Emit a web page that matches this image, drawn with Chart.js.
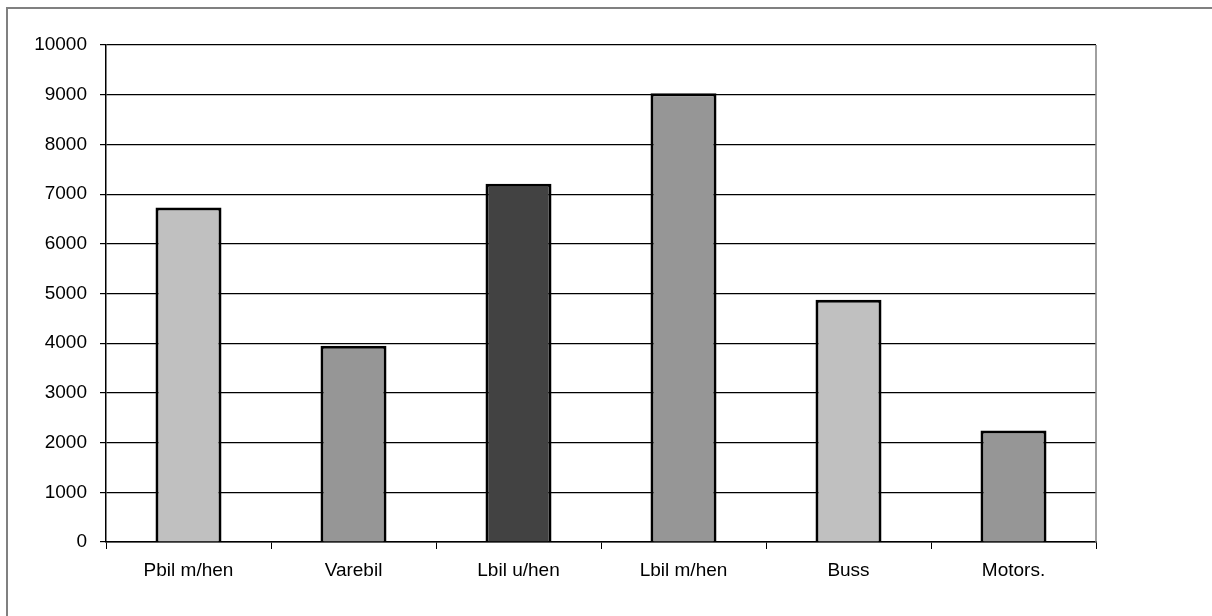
<!DOCTYPE html>
<html>
<head>
<meta charset="utf-8">
<script src="https://cdn.jsdelivr.net/npm/chart.js@4"></script>
<style>
  html, body { margin: 0; padding: 0; background: #ffffff; }
  #wrap { position: absolute; left: 0; top: 0; width: 1212px; height: 616px; }
</style>
</head>
<body>
<div id="wrap"><canvas id="c" width="1212" height="616"></canvas></div>
<script>
const categories = ["Pbil m/hen", "Varebil", "Lbil u/hen", "Lbil m/hen", "Buss", "Motors."];
const values = [6730, 3950, 7210, 9030, 4875, 2245];
const barColors = ["#c0c0c0", "#969696", "#424242", "#969696", "#c0c0c0", "#969696"];
const yTicks = [0, 1000, 2000, 3000, 4000, 5000, 6000, 7000, 8000, 9000, 10000];

const framePlugin = {
  id: 'frame',
  beforeDraw(chart) {
    const ctx = chart.ctx;
    ctx.save();
    ctx.fillStyle = '#ffffff';
    ctx.fillRect(0, 0, chart.width, chart.height);
    ctx.strokeStyle = '#808080';
    ctx.lineWidth = 2;
    ctx.beginPath();
    ctx.moveTo(7, 616);
    ctx.lineTo(7, 8);
    ctx.lineTo(1212, 8);
    ctx.stroke();
    ctx.restore();
  },
  afterDatasetsDraw(chart) {
    const a = chart.chartArea;
    const ctx = chart.ctx;
    ctx.save();
    ctx.strokeStyle = '#808080';
    ctx.lineWidth = 1.5;
    ctx.beginPath();
    ctx.moveTo(a.right, a.top);
    ctx.lineTo(a.right, a.bottom);
    ctx.stroke();
    ctx.restore();
  }
};

new Chart(document.getElementById('c'), {
  type: 'bar',
  data: {
    labels: categories,
    datasets: [{
      data: values,
      backgroundColor: barColors,
      borderColor: '#000000',
      borderWidth: 3,
      barPercentage: 0.4,
      categoryPercentage: 1.0
    }]
  },
  plugins: [framePlugin],
  options: {
    responsive: false,
    animation: false,
    events: [],
    layout: { padding: { left: 0, top: 45, right: 116, bottom: 0 } },
    plugins: {
      legend: { display: false },
      tooltip: { enabled: false },
      title: { display: false }
    },
    scales: {
      x: {
        offset: true,
        grid: {
          offset: true,
          drawOnChartArea: false,
          drawTicks: true,
          tickLength: 7,
          color: '#000000',
          lineWidth: 1
        },
        border: { display: true, color: '#000000', width: 1.5 },
        ticks: {
          color: '#000000',
          padding: 10,
          maxRotation: 0,
          autoSkip: false,
          font: { family: '"Liberation Sans", Arial, sans-serif', size: 19 }
        },
        afterFit(scale) { scale.height = 74; }
      },
      y: {
        min: 0,
        max: 10000,
        afterBuildTicks(scale) { scale.ticks = yTicks.map(v => ({ value: v })); },
        grid: {
          drawTicks: true,
          tickLength: 6,
          color: '#000000',
          lineWidth: 1.2
        },
        border: { display: true, color: '#000000', width: 1.5 },
        ticks: {
          color: '#000000',
          padding: 13,
          callback: (v) => String(v),
          font: { family: '"Liberation Sans", Arial, sans-serif', size: 19 }
        },
        afterFit(scale) { scale.width = 106; }
      }
    }
  }
});
</script>
</body>
</html>
